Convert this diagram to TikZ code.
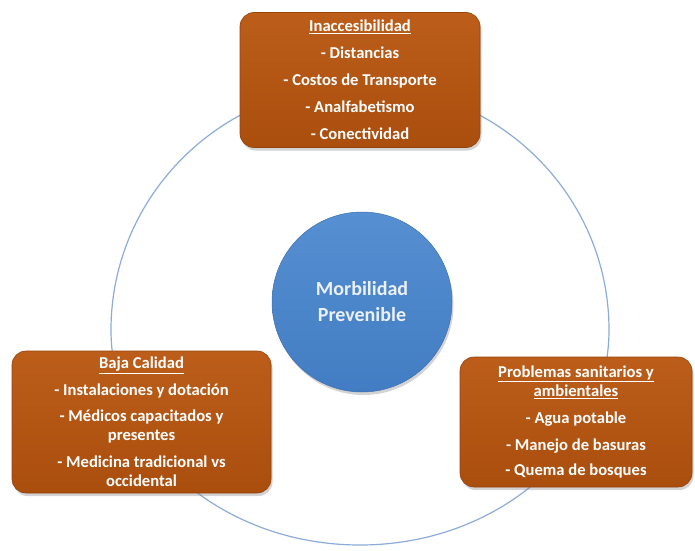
\documentclass[tikz,border=0pt]{standalone}
\usepackage{fontspec}
\setmainfont{Carlito}
\usetikzlibrary{shadows}
\definecolor{ringblue}{RGB}{140,172,216}
\definecolor{brtop}{RGB}{188,94,26}
\definecolor{brbot}{RGB}{170,78,14}
\definecolor{brline}{RGB}{150,66,12}
\definecolor{hubtop}{RGB}{86,144,210}
\definecolor{hubbot}{RGB}{66,124,194}
\definecolor{hubtext}{RGB}{236,241,248}
\newcommand\ringrx{249}
\newcommand\ringtop{245}
\newcommand\ringbot{215}

\tikzset{
  cause/.style={draw=brline, line width=0.6pt, rounded corners=14pt,
    top color=brtop, bottom color=brbot, text=white, align=center,
    font=\bfseries\fontsize{16.6}{19}\selectfont, inner sep=0pt,
    drop shadow={shadow xshift=1.5pt, shadow yshift=-3pt, opacity=0.35}},
  hub/.style={circle, draw=hubbot!90!black, line width=0.5pt,
    top color=hubtop, bottom color=hubbot, text=hubtext, align=center,
    font=\bfseries\fontsize{20}{26}\selectfont, minimum size=180pt,
    drop shadow={shadow xshift=1.5pt, shadow yshift=-3pt, opacity=0.35}}
}

\begin{document}
\begin{tikzpicture}[x=1pt,y=1pt]
\useasboundingbox (0,0) rectangle (695,550);
\coordinate (ring) at (360,220);
% ring behind the boxes
\draw[ringblue, line width=1.2pt] (ring) ++(-\ringrx,0)
  arc[start angle=180, end angle=0, x radius=\ringrx, y radius=\ringtop]
  arc[start angle=0, end angle=-180, x radius=\ringrx, y radius=\ringbot];
\node[hub] (morb) at (362,248) {Morbilidad\\Prevenible};
\node[cause, minimum width=240pt, minimum height=135pt] (acceso) at (360,470)
  {\underline{Inaccesibilidad}\\[8pt] - Distancias\\[8pt] - Costos de Transporte\\[8pt]
   - Analfabetismo\\[8pt] - Conectividad};
\node[cause, minimum width=259pt, minimum height=142pt] (calidad) at (141.5,128)
  {\underline{Baja Calidad}\\[8pt] - Instalaciones y dotación\\[7pt] - Médicos capacitados y\\
   presentes\\[8pt] - Medicina tradicional vs\\ occidental};
\node[cause, minimum width=232pt, minimum height=130pt] (sanidad) at (576,128)
  {\underline{Problemas sanitarios y}\\ \underline{ambientales}\\[8pt] - Agua potable\\[8pt]
   - Manejo de basuras\\[6pt] - Quema de bosques};
\end{tikzpicture}
\end{document}
